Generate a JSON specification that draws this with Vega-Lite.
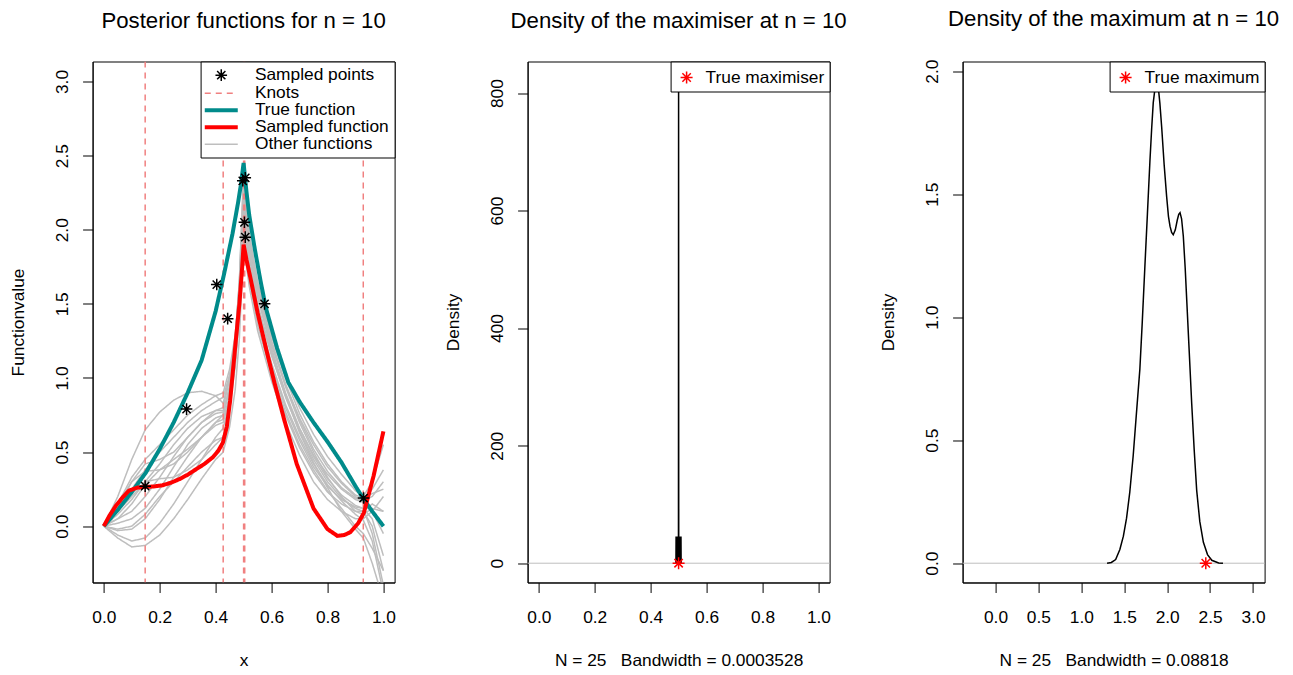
{
"$schema": "https://vega.github.io/schema/vega-lite/v6.json",
"background": "white",
"padding": {"left": 8.6, "top": 7.5, "right": 20, "bottom": 5},
"bounds": "flush",
"spacing": 133,
"config": {
 "font": "Liberation Sans",
 "view": {"stroke": "black", "strokeWidth": 1},
 "title": {"fontSize": 22.2, "fontWeight": "normal", "font": "Liberation Sans", "color": "black", "anchor": "middle", "frame": "group", "baseline": "alphabetic", "offset": 28.5},
 "axis": {"grid": false, "domainColor": "black", "tickColor": "black", "tickSize": 10, "labelFontSize": 17.33, "labelColor": "black", "titleFontSize": 17.33, "titleFontWeight": "normal", "titleColor": "black"},
 "legend": {"labelFont": "Liberation Sans"}
},
"resolve": {"scale": {"color": "independent", "shape": "independent", "strokeDash": "independent", "strokeWidth": "independent"}, "legend": {"color": "independent", "shape": "independent", "strokeDash": "independent", "strokeWidth": "independent"}},
"datasets": {
 "others": [
{"s":"Other functions","id":1,"x":0,"y":0},{"s":"Other functions","id":1,"x":0.05,"y":0.2},{"s":"Other functions","id":1,"x":0.1,"y":0.45},{"s":"Other functions","id":1,"x":0.148,"y":0.65},{"s":"Other functions","id":1,"x":0.2,"y":0.77},{"s":"Other functions","id":1,"x":0.25,"y":0.85},{"s":"Other functions","id":1,"x":0.3,"y":0.9},{"s":"Other functions","id":1,"x":0.35,"y":0.91},{"s":"Other functions","id":1,"x":0.4,"y":0.88},{"s":"Other functions","id":1,"x":0.427,"y":0.83},{"s":"Other functions","id":1,"x":0.45,"y":1.01},{"s":"Other functions","id":1,"x":0.47,"y":1.27},{"s":"Other functions","id":1,"x":0.485,"y":1.64},{"s":"Other functions","id":1,"x":0.5,"y":2.3},{"s":"Other functions","id":1,"x":0.51,"y":2.1},{"s":"Other functions","id":1,"x":0.52,"y":1.95},{"s":"Other functions","id":1,"x":0.55,"y":1.65},{"s":"Other functions","id":1,"x":0.6,"y":1.3},{"s":"Other functions","id":1,"x":0.65,"y":1.02},{"s":"Other functions","id":1,"x":0.7,"y":0.8},{"s":"Other functions","id":1,"x":0.75,"y":0.62},{"s":"Other functions","id":1,"x":0.8,"y":0.47},{"s":"Other functions","id":1,"x":0.85,"y":0.35},{"s":"Other functions","id":1,"x":0.9,"y":0.24},{"s":"Other functions","id":1,"x":0.928,"y":0.2},{"s":"Other functions","id":1,"x":0.96,"y":0.3},{"s":"Other functions","id":1,"x":1,"y":0.55},
{"s":"Other functions","id":2,"x":0,"y":0},{"s":"Other functions","id":2,"x":0.05,"y":0.15},{"s":"Other functions","id":2,"x":0.1,"y":0.33},{"s":"Other functions","id":2,"x":0.148,"y":0.45},{"s":"Other functions","id":2,"x":0.2,"y":0.55},{"s":"Other functions","id":2,"x":0.25,"y":0.65},{"s":"Other functions","id":2,"x":0.3,"y":0.75},{"s":"Other functions","id":2,"x":0.35,"y":0.82},{"s":"Other functions","id":2,"x":0.4,"y":0.88},{"s":"Other functions","id":2,"x":0.427,"y":0.9},{"s":"Other functions","id":2,"x":0.45,"y":1.06},{"s":"Other functions","id":2,"x":0.47,"y":1.29},{"s":"Other functions","id":2,"x":0.485,"y":1.62},{"s":"Other functions","id":2,"x":0.5,"y":2.2},{"s":"Other functions","id":2,"x":0.51,"y":2.0},{"s":"Other functions","id":2,"x":0.52,"y":1.85},{"s":"Other functions","id":2,"x":0.55,"y":1.55},{"s":"Other functions","id":2,"x":0.6,"y":1.22},{"s":"Other functions","id":2,"x":0.65,"y":0.95},{"s":"Other functions","id":2,"x":0.7,"y":0.73},{"s":"Other functions","id":2,"x":0.75,"y":0.55},{"s":"Other functions","id":2,"x":0.8,"y":0.4},{"s":"Other functions","id":2,"x":0.85,"y":0.29},{"s":"Other functions","id":2,"x":0.9,"y":0.2},{"s":"Other functions","id":2,"x":0.928,"y":0.17},{"s":"Other functions","id":2,"x":0.96,"y":0.2},{"s":"Other functions","id":2,"x":1,"y":0.3},
{"s":"Other functions","id":3,"x":0,"y":0},{"s":"Other functions","id":3,"x":0.05,"y":0.1},{"s":"Other functions","id":3,"x":0.1,"y":0.25},{"s":"Other functions","id":3,"x":0.148,"y":0.38},{"s":"Other functions","id":3,"x":0.2,"y":0.5},{"s":"Other functions","id":3,"x":0.25,"y":0.6},{"s":"Other functions","id":3,"x":0.3,"y":0.7},{"s":"Other functions","id":3,"x":0.35,"y":0.78},{"s":"Other functions","id":3,"x":0.4,"y":0.84},{"s":"Other functions","id":3,"x":0.427,"y":0.87},{"s":"Other functions","id":3,"x":0.45,"y":1.02},{"s":"Other functions","id":3,"x":0.47,"y":1.24},{"s":"Other functions","id":3,"x":0.485,"y":1.55},{"s":"Other functions","id":3,"x":0.5,"y":2.1},{"s":"Other functions","id":3,"x":0.51,"y":1.92},{"s":"Other functions","id":3,"x":0.52,"y":1.78},{"s":"Other functions","id":3,"x":0.55,"y":1.48},{"s":"Other functions","id":3,"x":0.6,"y":1.15},{"s":"Other functions","id":3,"x":0.65,"y":0.88},{"s":"Other functions","id":3,"x":0.7,"y":0.66},{"s":"Other functions","id":3,"x":0.75,"y":0.48},{"s":"Other functions","id":3,"x":0.8,"y":0.35},{"s":"Other functions","id":3,"x":0.85,"y":0.25},{"s":"Other functions","id":3,"x":0.9,"y":0.18},{"s":"Other functions","id":3,"x":0.928,"y":0.16},{"s":"Other functions","id":3,"x":0.96,"y":0.1},{"s":"Other functions","id":3,"x":1,"y":-0.05},
{"s":"Other functions","id":4,"x":0,"y":0},{"s":"Other functions","id":4,"x":0.05,"y":0.12},{"s":"Other functions","id":4,"x":0.1,"y":0.3},{"s":"Other functions","id":4,"x":0.148,"y":0.42},{"s":"Other functions","id":4,"x":0.2,"y":0.45},{"s":"Other functions","id":4,"x":0.25,"y":0.5},{"s":"Other functions","id":4,"x":0.3,"y":0.6},{"s":"Other functions","id":4,"x":0.35,"y":0.7},{"s":"Other functions","id":4,"x":0.4,"y":0.78},{"s":"Other functions","id":4,"x":0.427,"y":0.8},{"s":"Other functions","id":4,"x":0.45,"y":0.99},{"s":"Other functions","id":4,"x":0.47,"y":1.27},{"s":"Other functions","id":4,"x":0.485,"y":1.65},{"s":"Other functions","id":4,"x":0.5,"y":2.35},{"s":"Other functions","id":4,"x":0.51,"y":2.12},{"s":"Other functions","id":4,"x":0.52,"y":1.96},{"s":"Other functions","id":4,"x":0.55,"y":1.62},{"s":"Other functions","id":4,"x":0.6,"y":1.25},{"s":"Other functions","id":4,"x":0.65,"y":0.96},{"s":"Other functions","id":4,"x":0.7,"y":0.72},{"s":"Other functions","id":4,"x":0.75,"y":0.52},{"s":"Other functions","id":4,"x":0.8,"y":0.37},{"s":"Other functions","id":4,"x":0.85,"y":0.26},{"s":"Other functions","id":4,"x":0.9,"y":0.19},{"s":"Other functions","id":4,"x":0.928,"y":0.17},{"s":"Other functions","id":4,"x":0.96,"y":0.25},{"s":"Other functions","id":4,"x":1,"y":0.38},
{"s":"Other functions","id":5,"x":0,"y":0},{"s":"Other functions","id":5,"x":0.05,"y":0.08},{"s":"Other functions","id":5,"x":0.1,"y":0.18},{"s":"Other functions","id":5,"x":0.148,"y":0.3},{"s":"Other functions","id":5,"x":0.2,"y":0.42},{"s":"Other functions","id":5,"x":0.25,"y":0.55},{"s":"Other functions","id":5,"x":0.3,"y":0.66},{"s":"Other functions","id":5,"x":0.35,"y":0.74},{"s":"Other functions","id":5,"x":0.4,"y":0.78},{"s":"Other functions","id":5,"x":0.427,"y":0.78},{"s":"Other functions","id":5,"x":0.45,"y":0.93},{"s":"Other functions","id":5,"x":0.47,"y":1.15},{"s":"Other functions","id":5,"x":0.485,"y":1.45},{"s":"Other functions","id":5,"x":0.5,"y":2.0},{"s":"Other functions","id":5,"x":0.51,"y":1.85},{"s":"Other functions","id":5,"x":0.52,"y":1.72},{"s":"Other functions","id":5,"x":0.55,"y":1.42},{"s":"Other functions","id":5,"x":0.6,"y":1.08},{"s":"Other functions","id":5,"x":0.65,"y":0.8},{"s":"Other functions","id":5,"x":0.7,"y":0.58},{"s":"Other functions","id":5,"x":0.75,"y":0.4},{"s":"Other functions","id":5,"x":0.8,"y":0.27},{"s":"Other functions","id":5,"x":0.85,"y":0.18},{"s":"Other functions","id":5,"x":0.9,"y":0.13},{"s":"Other functions","id":5,"x":0.928,"y":0.12},{"s":"Other functions","id":5,"x":0.96,"y":0.05},{"s":"Other functions","id":5,"x":1,"y":-0.2},
{"s":"Other functions","id":6,"x":0,"y":0},{"s":"Other functions","id":6,"x":0.05,"y":0.05},{"s":"Other functions","id":6,"x":0.1,"y":0.1},{"s":"Other functions","id":6,"x":0.148,"y":0.2},{"s":"Other functions","id":6,"x":0.2,"y":0.33},{"s":"Other functions","id":6,"x":0.25,"y":0.47},{"s":"Other functions","id":6,"x":0.3,"y":0.6},{"s":"Other functions","id":6,"x":0.35,"y":0.7},{"s":"Other functions","id":6,"x":0.4,"y":0.76},{"s":"Other functions","id":6,"x":0.427,"y":0.77},{"s":"Other functions","id":6,"x":0.45,"y":0.91},{"s":"Other functions","id":6,"x":0.47,"y":1.12},{"s":"Other functions","id":6,"x":0.485,"y":1.42},{"s":"Other functions","id":6,"x":0.5,"y":1.95},{"s":"Other functions","id":6,"x":0.51,"y":1.8},{"s":"Other functions","id":6,"x":0.52,"y":1.66},{"s":"Other functions","id":6,"x":0.55,"y":1.36},{"s":"Other functions","id":6,"x":0.6,"y":1.02},{"s":"Other functions","id":6,"x":0.65,"y":0.75},{"s":"Other functions","id":6,"x":0.7,"y":0.53},{"s":"Other functions","id":6,"x":0.75,"y":0.36},{"s":"Other functions","id":6,"x":0.8,"y":0.23},{"s":"Other functions","id":6,"x":0.85,"y":0.15},{"s":"Other functions","id":6,"x":0.9,"y":0.1},{"s":"Other functions","id":6,"x":0.928,"y":0.1},{"s":"Other functions","id":6,"x":0.96,"y":0.15},{"s":"Other functions","id":6,"x":1,"y":0.1},
{"s":"Other functions","id":7,"x":0,"y":0},{"s":"Other functions","id":7,"x":0.05,"y":0.02},{"s":"Other functions","id":7,"x":0.1,"y":0.05},{"s":"Other functions","id":7,"x":0.148,"y":0.12},{"s":"Other functions","id":7,"x":0.2,"y":0.25},{"s":"Other functions","id":7,"x":0.25,"y":0.4},{"s":"Other functions","id":7,"x":0.3,"y":0.55},{"s":"Other functions","id":7,"x":0.35,"y":0.66},{"s":"Other functions","id":7,"x":0.4,"y":0.73},{"s":"Other functions","id":7,"x":0.427,"y":0.75},{"s":"Other functions","id":7,"x":0.45,"y":0.93},{"s":"Other functions","id":7,"x":0.47,"y":1.2},{"s":"Other functions","id":7,"x":0.485,"y":1.58},{"s":"Other functions","id":7,"x":0.5,"y":2.25},{"s":"Other functions","id":7,"x":0.51,"y":2.05},{"s":"Other functions","id":7,"x":0.52,"y":1.9},{"s":"Other functions","id":7,"x":0.55,"y":1.58},{"s":"Other functions","id":7,"x":0.6,"y":1.2},{"s":"Other functions","id":7,"x":0.65,"y":0.9},{"s":"Other functions","id":7,"x":0.7,"y":0.66},{"s":"Other functions","id":7,"x":0.75,"y":0.47},{"s":"Other functions","id":7,"x":0.8,"y":0.32},{"s":"Other functions","id":7,"x":0.85,"y":0.21},{"s":"Other functions","id":7,"x":0.9,"y":0.14},{"s":"Other functions","id":7,"x":0.928,"y":0.12},{"s":"Other functions","id":7,"x":0.96,"y":-0.05},{"s":"Other functions","id":7,"x":1,"y":-0.4},
{"s":"Other functions","id":8,"x":0,"y":0},{"s":"Other functions","id":8,"x":0.05,"y":-0.03},{"s":"Other functions","id":8,"x":0.1,"y":-0.02},{"s":"Other functions","id":8,"x":0.148,"y":0.05},{"s":"Other functions","id":8,"x":0.2,"y":0.18},{"s":"Other functions","id":8,"x":0.25,"y":0.33},{"s":"Other functions","id":8,"x":0.3,"y":0.47},{"s":"Other functions","id":8,"x":0.35,"y":0.6},{"s":"Other functions","id":8,"x":0.4,"y":0.7},{"s":"Other functions","id":8,"x":0.427,"y":0.72},{"s":"Other functions","id":8,"x":0.45,"y":0.88},{"s":"Other functions","id":8,"x":0.47,"y":1.12},{"s":"Other functions","id":8,"x":0.485,"y":1.45},{"s":"Other functions","id":8,"x":0.5,"y":2.05},{"s":"Other functions","id":8,"x":0.51,"y":1.88},{"s":"Other functions","id":8,"x":0.52,"y":1.74},{"s":"Other functions","id":8,"x":0.55,"y":1.44},{"s":"Other functions","id":8,"x":0.6,"y":1.1},{"s":"Other functions","id":8,"x":0.65,"y":0.82},{"s":"Other functions","id":8,"x":0.7,"y":0.6},{"s":"Other functions","id":8,"x":0.75,"y":0.42},{"s":"Other functions","id":8,"x":0.8,"y":0.28},{"s":"Other functions","id":8,"x":0.85,"y":0.17},{"s":"Other functions","id":8,"x":0.9,"y":0.08},{"s":"Other functions","id":8,"x":0.928,"y":0.04},{"s":"Other functions","id":8,"x":0.96,"y":-0.1},{"s":"Other functions","id":8,"x":1,"y":-0.45},
{"s":"Other functions","id":9,"x":0,"y":0},{"s":"Other functions","id":9,"x":0.05,"y":-0.06},{"s":"Other functions","id":9,"x":0.1,"y":-0.1},{"s":"Other functions","id":9,"x":0.148,"y":-0.08},{"s":"Other functions","id":9,"x":0.2,"y":0.02},{"s":"Other functions","id":9,"x":0.25,"y":0.15},{"s":"Other functions","id":9,"x":0.3,"y":0.3},{"s":"Other functions","id":9,"x":0.35,"y":0.45},{"s":"Other functions","id":9,"x":0.4,"y":0.6},{"s":"Other functions","id":9,"x":0.427,"y":0.66},{"s":"Other functions","id":9,"x":0.45,"y":0.84},{"s":"Other functions","id":9,"x":0.47,"y":1.11},{"s":"Other functions","id":9,"x":0.485,"y":1.48},{"s":"Other functions","id":9,"x":0.5,"y":2.15},{"s":"Other functions","id":9,"x":0.51,"y":1.97},{"s":"Other functions","id":9,"x":0.52,"y":1.82},{"s":"Other functions","id":9,"x":0.55,"y":1.5},{"s":"Other functions","id":9,"x":0.6,"y":1.16},{"s":"Other functions","id":9,"x":0.65,"y":0.87},{"s":"Other functions","id":9,"x":0.7,"y":0.64},{"s":"Other functions","id":9,"x":0.75,"y":0.45},{"s":"Other functions","id":9,"x":0.8,"y":0.3},{"s":"Other functions","id":9,"x":0.85,"y":0.19},{"s":"Other functions","id":9,"x":0.9,"y":0.12},{"s":"Other functions","id":9,"x":0.928,"y":0.1},{"s":"Other functions","id":9,"x":0.96,"y":0},{"s":"Other functions","id":9,"x":1,"y":-0.3},
{"s":"Other functions","id":10,"x":0,"y":0},{"s":"Other functions","id":10,"x":0.05,"y":-0.08},{"s":"Other functions","id":10,"x":0.1,"y":-0.14},{"s":"Other functions","id":10,"x":0.148,"y":-0.13},{"s":"Other functions","id":10,"x":0.2,"y":-0.06},{"s":"Other functions","id":10,"x":0.25,"y":0.05},{"s":"Other functions","id":10,"x":0.3,"y":0.18},{"s":"Other functions","id":10,"x":0.35,"y":0.32},{"s":"Other functions","id":10,"x":0.4,"y":0.45},{"s":"Other functions","id":10,"x":0.427,"y":0.5},{"s":"Other functions","id":10,"x":0.45,"y":0.67},{"s":"Other functions","id":10,"x":0.47,"y":0.92},{"s":"Other functions","id":10,"x":0.485,"y":1.27},{"s":"Other functions","id":10,"x":0.5,"y":1.9},{"s":"Other functions","id":10,"x":0.51,"y":1.76},{"s":"Other functions","id":10,"x":0.52,"y":1.62},{"s":"Other functions","id":10,"x":0.55,"y":1.32},{"s":"Other functions","id":10,"x":0.6,"y":0.98},{"s":"Other functions","id":10,"x":0.65,"y":0.7},{"s":"Other functions","id":10,"x":0.7,"y":0.48},{"s":"Other functions","id":10,"x":0.75,"y":0.3},{"s":"Other functions","id":10,"x":0.8,"y":0.18},{"s":"Other functions","id":10,"x":0.85,"y":0.1},{"s":"Other functions","id":10,"x":0.9,"y":0.05},{"s":"Other functions","id":10,"x":0.928,"y":0.05},{"s":"Other functions","id":10,"x":0.96,"y":0.1},{"s":"Other functions","id":10,"x":1,"y":0.2},
{"s":"Other functions","id":11,"x":0,"y":0},{"s":"Other functions","id":11,"x":0.05,"y":0.15},{"s":"Other functions","id":11,"x":0.1,"y":0.3},{"s":"Other functions","id":11,"x":0.148,"y":0.37},{"s":"Other functions","id":11,"x":0.2,"y":0.38},{"s":"Other functions","id":11,"x":0.25,"y":0.42},{"s":"Other functions","id":11,"x":0.3,"y":0.5},{"s":"Other functions","id":11,"x":0.35,"y":0.6},{"s":"Other functions","id":11,"x":0.4,"y":0.7},{"s":"Other functions","id":11,"x":0.427,"y":0.75},{"s":"Other functions","id":11,"x":0.45,"y":0.95},{"s":"Other functions","id":11,"x":0.47,"y":1.25},{"s":"Other functions","id":11,"x":0.485,"y":1.66},{"s":"Other functions","id":11,"x":0.5,"y":2.4},{"s":"Other functions","id":11,"x":0.51,"y":2.15},{"s":"Other functions","id":11,"x":0.52,"y":1.98},{"s":"Other functions","id":11,"x":0.55,"y":1.64},{"s":"Other functions","id":11,"x":0.6,"y":1.28},{"s":"Other functions","id":11,"x":0.65,"y":1.0},{"s":"Other functions","id":11,"x":0.7,"y":0.76},{"s":"Other functions","id":11,"x":0.75,"y":0.57},{"s":"Other functions","id":11,"x":0.8,"y":0.42},{"s":"Other functions","id":11,"x":0.85,"y":0.3},{"s":"Other functions","id":11,"x":0.9,"y":0.21},{"s":"Other functions","id":11,"x":0.928,"y":0.19},{"s":"Other functions","id":11,"x":0.96,"y":0.22},{"s":"Other functions","id":11,"x":1,"y":0.25},
{"s":"Other functions","id":12,"x":0,"y":0},{"s":"Other functions","id":12,"x":0.05,"y":0.05},{"s":"Other functions","id":12,"x":0.1,"y":0.15},{"s":"Other functions","id":12,"x":0.148,"y":0.28},{"s":"Other functions","id":12,"x":0.2,"y":0.38},{"s":"Other functions","id":12,"x":0.25,"y":0.45},{"s":"Other functions","id":12,"x":0.3,"y":0.52},{"s":"Other functions","id":12,"x":0.35,"y":0.6},{"s":"Other functions","id":12,"x":0.4,"y":0.68},{"s":"Other functions","id":12,"x":0.427,"y":0.7},{"s":"Other functions","id":12,"x":0.45,"y":0.86},{"s":"Other functions","id":12,"x":0.47,"y":1.09},{"s":"Other functions","id":12,"x":0.485,"y":1.42},{"s":"Other functions","id":12,"x":0.5,"y":2.0},{"s":"Other functions","id":12,"x":0.51,"y":1.84},{"s":"Other functions","id":12,"x":0.52,"y":1.7},{"s":"Other functions","id":12,"x":0.55,"y":1.4},{"s":"Other functions","id":12,"x":0.6,"y":1.05},{"s":"Other functions","id":12,"x":0.65,"y":0.77},{"s":"Other functions","id":12,"x":0.7,"y":0.55},{"s":"Other functions","id":12,"x":0.75,"y":0.38},{"s":"Other functions","id":12,"x":0.8,"y":0.24},{"s":"Other functions","id":12,"x":0.85,"y":0.12},{"s":"Other functions","id":12,"x":0.9,"y":0},{"s":"Other functions","id":12,"x":0.928,"y":-0.05},{"s":"Other functions","id":12,"x":0.96,"y":-0.15},{"s":"Other functions","id":12,"x":1,"y":-0.3},
{"s":"Other functions","id":13,"x":0,"y":0},{"s":"Other functions","id":13,"x":0.05,"y":-0.02},{"s":"Other functions","id":13,"x":0.1,"y":0},{"s":"Other functions","id":13,"x":0.148,"y":0.08},{"s":"Other functions","id":13,"x":0.2,"y":0.2},{"s":"Other functions","id":13,"x":0.25,"y":0.3},{"s":"Other functions","id":13,"x":0.3,"y":0.4},{"s":"Other functions","id":13,"x":0.35,"y":0.5},{"s":"Other functions","id":13,"x":0.4,"y":0.58},{"s":"Other functions","id":13,"x":0.427,"y":0.6},{"s":"Other functions","id":13,"x":0.45,"y":0.8},{"s":"Other functions","id":13,"x":0.47,"y":1.11},{"s":"Other functions","id":13,"x":0.485,"y":1.54},{"s":"Other functions","id":13,"x":0.5,"y":2.3},{"s":"Other functions","id":13,"x":0.51,"y":2.08},{"s":"Other functions","id":13,"x":0.52,"y":1.92},{"s":"Other functions","id":13,"x":0.55,"y":1.6},{"s":"Other functions","id":13,"x":0.6,"y":1.24},{"s":"Other functions","id":13,"x":0.65,"y":0.94},{"s":"Other functions","id":13,"x":0.7,"y":0.7},{"s":"Other functions","id":13,"x":0.75,"y":0.5},{"s":"Other functions","id":13,"x":0.8,"y":0.33},{"s":"Other functions","id":13,"x":0.85,"y":0.2},{"s":"Other functions","id":13,"x":0.9,"y":0.1},{"s":"Other functions","id":13,"x":0.928,"y":0.08},{"s":"Other functions","id":13,"x":0.96,"y":0.12},{"s":"Other functions","id":13,"x":1,"y":0.1},
{"s":"Other functions","id":14,"x":0,"y":0},{"s":"Other functions","id":14,"x":0.05,"y":0.1},{"s":"Other functions","id":14,"x":0.1,"y":0.2},{"s":"Other functions","id":14,"x":0.148,"y":0.3},{"s":"Other functions","id":14,"x":0.2,"y":0.32},{"s":"Other functions","id":14,"x":0.25,"y":0.33},{"s":"Other functions","id":14,"x":0.3,"y":0.38},{"s":"Other functions","id":14,"x":0.35,"y":0.45},{"s":"Other functions","id":14,"x":0.4,"y":0.55},{"s":"Other functions","id":14,"x":0.427,"y":0.6},{"s":"Other functions","id":14,"x":0.45,"y":0.79},{"s":"Other functions","id":14,"x":0.47,"y":1.08},{"s":"Other functions","id":14,"x":0.485,"y":1.48},{"s":"Other functions","id":14,"x":0.5,"y":2.2},{"s":"Other functions","id":14,"x":0.51,"y":2.0},{"s":"Other functions","id":14,"x":0.52,"y":1.86},{"s":"Other functions","id":14,"x":0.55,"y":1.55},{"s":"Other functions","id":14,"x":0.6,"y":1.18},{"s":"Other functions","id":14,"x":0.65,"y":0.88},{"s":"Other functions","id":14,"x":0.7,"y":0.63},{"s":"Other functions","id":14,"x":0.75,"y":0.43},{"s":"Other functions","id":14,"x":0.8,"y":0.26},{"s":"Other functions","id":14,"x":0.85,"y":0.1},{"s":"Other functions","id":14,"x":0.9,"y":-0.02},{"s":"Other functions","id":14,"x":0.928,"y":-0.08},{"s":"Other functions","id":14,"x":0.96,"y":-0.25},{"s":"Other functions","id":14,"x":1,"y":-0.5}
 ],
 "truef": [
{"s":"True function","x":0,"y":0},{"s":"True function","x":0.05,"y":0.11},{"s":"True function","x":0.1,"y":0.23},{"s":"True function","x":0.15,"y":0.36},{"s":"True function","x":0.2,"y":0.52},{"s":"True function","x":0.25,"y":0.7},{"s":"True function","x":0.3,"y":0.9},{"s":"True function","x":0.35,"y":1.12},{"s":"True function","x":0.4,"y":1.45},{"s":"True function","x":0.43,"y":1.7},{"s":"True function","x":0.46,"y":1.97},{"s":"True function","x":0.48,"y":2.18},{"s":"True function","x":0.49,"y":2.3},{"s":"True function","x":0.5,"y":2.45},{"s":"True function","x":0.51,"y":2.26},{"s":"True function","x":0.52,"y":2.1},{"s":"True function","x":0.54,"y":1.87},{"s":"True function","x":0.56,"y":1.66},{"s":"True function","x":0.58,"y":1.47},{"s":"True function","x":0.62,"y":1.2},{"s":"True function","x":0.66,"y":0.97},{"s":"True function","x":0.7,"y":0.84},{"s":"True function","x":0.75,"y":0.7},{"s":"True function","x":0.8,"y":0.57},{"s":"True function","x":0.85,"y":0.43},{"s":"True function","x":0.9,"y":0.27},{"s":"True function","x":0.93,"y":0.18},{"s":"True function","x":0.96,"y":0.1},{"s":"True function","x":1,"y":0}
 ],
 "sampf": [
{"s":"Sampled function","x":0,"y":0},{"s":"Sampled function","x":0.02,"y":0.07},{"s":"Sampled function","x":0.043,"y":0.137},{"s":"Sampled function","x":0.07,"y":0.2},{"s":"Sampled function","x":0.09,"y":0.24},{"s":"Sampled function","x":0.12,"y":0.26},{"s":"Sampled function","x":0.15,"y":0.265},{"s":"Sampled function","x":0.18,"y":0.268},{"s":"Sampled function","x":0.21,"y":0.276},{"s":"Sampled function","x":0.24,"y":0.293},{"s":"Sampled function","x":0.27,"y":0.317},{"s":"Sampled function","x":0.3,"y":0.347},{"s":"Sampled function","x":0.33,"y":0.384},{"s":"Sampled function","x":0.36,"y":0.42},{"s":"Sampled function","x":0.39,"y":0.465},{"s":"Sampled function","x":0.41,"y":0.51},{"s":"Sampled function","x":0.426,"y":0.564},{"s":"Sampled function","x":0.44,"y":0.67},{"s":"Sampled function","x":0.452,"y":0.85},{"s":"Sampled function","x":0.462,"y":1.05},{"s":"Sampled function","x":0.472,"y":1.25},{"s":"Sampled function","x":0.485,"y":1.5},{"s":"Sampled function","x":0.495,"y":1.75},{"s":"Sampled function","x":0.5,"y":1.9},{"s":"Sampled function","x":0.51,"y":1.8},{"s":"Sampled function","x":0.525,"y":1.67},{"s":"Sampled function","x":0.55,"y":1.44},{"s":"Sampled function","x":0.58,"y":1.2},{"s":"Sampled function","x":0.61,"y":0.97},{"s":"Sampled function","x":0.645,"y":0.72},{"s":"Sampled function","x":0.69,"y":0.42},{"s":"Sampled function","x":0.75,"y":0.12},{"s":"Sampled function","x":0.8,"y":-0.02},{"s":"Sampled function","x":0.835,"y":-0.065},{"s":"Sampled function","x":0.86,"y":-0.06},{"s":"Sampled function","x":0.882,"y":-0.04},{"s":"Sampled function","x":0.91,"y":0.02},{"s":"Sampled function","x":0.93,"y":0.09},{"s":"Sampled function","x":0.965,"y":0.34},{"s":"Sampled function","x":1,"y":0.64}
 ],
 "knots": [
{"s":"Knots","x":0.148},{"s":"Knots","x":0.427},{"s":"Knots","x":0.5},{"s":"Knots","x":0.504},{"s":"Knots","x":0.928}
 ],
 "pts": [
{"s":"Sampled points","x":0.148,"y":0.27},{"s":"Sampled points","x":0.296,"y":0.79},{"s":"Sampled points","x":0.404,"y":1.63},{"s":"Sampled points","x":0.443,"y":1.4},{"s":"Sampled points","x":0.504,"y":2.55},{"s":"Sampled points","x":0.497,"y":2.33},{"s":"Sampled points","x":0.506,"y":2.35},{"s":"Sampled points","x":0.503,"y":2.05},{"s":"Sampled points","x":0.506,"y":1.95},{"s":"Sampled points","x":0.575,"y":1.5},{"s":"Sampled points","x":0.929,"y":0.19}
 ],
 "dens2": [
{"x":0.489,"y":0},{"x":0.4905,"y":0},{"x":0.491,"y":45.6},{"x":0.4915,"y":0},{"x":0.4935,"y":0},{"x":0.494,"y":45.6},{"x":0.4945,"y":0},{"x":0.4962,"y":0},{"x":0.4966,"y":45.6},{"x":0.497,"y":0},{"x":0.4995,"y":0},{"x":0.5,"y":821},{"x":0.5005,"y":0},{"x":0.502,"y":0},{"x":0.5025,"y":45.6},{"x":0.503,"y":0},{"x":0.5052,"y":0},{"x":0.5057,"y":45.6},{"x":0.5062,"y":0},{"x":0.508,"y":0},{"x":0.5085,"y":45.6},{"x":0.509,"y":0},{"x":0.511,"y":0}
 ],
 "dens3": [
{"x":1.3,"y":0},{"x":1.35,"y":0.003},{"x":1.4,"y":0.015},{"x":1.449,"y":0.056},{"x":1.49,"y":0.11},{"x":1.527,"y":0.183},{"x":1.565,"y":0.29},{"x":1.604,"y":0.436},{"x":1.64,"y":0.6},{"x":1.682,"y":0.789},{"x":1.71,"y":0.98},{"x":1.741,"y":1.21},{"x":1.77,"y":1.42},{"x":1.799,"y":1.633},{"x":1.82,"y":1.77},{"x":1.838,"y":1.872},{"x":1.86,"y":1.935},{"x":1.877,"y":1.958},{"x":1.895,"y":1.94},{"x":1.915,"y":1.87},{"x":1.936,"y":1.773},{"x":1.965,"y":1.62},{"x":1.994,"y":1.49},{"x":2.015,"y":1.41},{"x":2.033,"y":1.37},{"x":2.052,"y":1.345},{"x":2.071,"y":1.335},{"x":2.095,"y":1.355},{"x":2.118,"y":1.395},{"x":2.135,"y":1.418},{"x":2.15,"y":1.425},{"x":2.168,"y":1.4},{"x":2.188,"y":1.33},{"x":2.21,"y":1.2},{"x":2.228,"y":1.07},{"x":2.257,"y":0.86},{"x":2.286,"y":0.648},{"x":2.315,"y":0.46},{"x":2.344,"y":0.296},{"x":2.38,"y":0.17},{"x":2.422,"y":0.085},{"x":2.47,"y":0.035},{"x":2.52,"y":0.012},{"x":2.6,"y":0.001},{"x":2.65,"y":0}
 ],
 "tmax2": [{"lab":"True maximiser","x":0.5,"y":0}],
 "tmax3": [{"lab":"True maximum","x":2.45,"y":0}]
},
"hconcat": [
{
 "width": 302, "height": 521,
 "title": {"text": "Posterior functions for n = 10"},
 "layer": [
  {"data": {"name": "others"}, "mark": {"type": "line", "clip": true},
   "encoding": {
    "x": {"field": "x", "type": "quantitative", "scale": {"domain": [-0.04, 1.04], "nice": false, "zero": false}, "axis": {"values": [0, 0.2, 0.4, 0.6, 0.8, 1], "format": ".1f", "title": "x", "labelAngle": 0, "labelAlign": "center", "labelBaseline": "alphabetic", "labelPadding": 30, "titleBaseline": "alphabetic", "titleY": 83.4}},
    "y": {"field": "y", "type": "quantitative", "scale": {"domain": [-0.38, 3.135], "nice": false, "zero": false}, "axis": {"values": [0, 0.5, 1, 1.5, 2, 2.5, 3], "format": ".1f", "title": "Functionvalue", "labelAngle": 270, "labelAlign": "center", "labelBaseline": "alphabetic", "labelPadding": 15, "titleAngle": 270, "titleBaseline": "alphabetic", "titleX": -69}},
    "detail": {"field": "id", "type": "nominal"},
    "color": {"field": "s", "type": "nominal", "scale": {"domain": ["Sampled points", "Knots", "True function", "Sampled function", "Other functions"], "range": ["black", "#F08080", "#008B8B", "#FF0000", "#BEBEBE"]}, "legend": {"title": null, "orient": "top-right", "offset": 0, "padding": 5, "strokeColor": "black", "fillColor": "white", "labelFontSize": 17.33, "labelColor": "black", "symbolSize": 100, "symbolOffset": 7, "labelOffset": 25, "rowPadding": -3.3, "cornerRadius": 0}},
    "strokeDash": {"field": "s", "type": "nominal", "scale": {"domain": ["Sampled points", "Knots", "True function", "Sampled function", "Other functions"], "range": [[1, 0], [6, 5], [1, 0], [1, 0], [1, 0]]}, "legend": {"title": null, "orient": "top-right", "offset": 0, "padding": 5, "strokeColor": "black", "fillColor": "white", "labelFontSize": 17.33, "labelColor": "black", "symbolSize": 100, "symbolOffset": 7, "labelOffset": 25, "rowPadding": -3.3, "cornerRadius": 0}},
    "strokeWidth": {"field": "s", "type": "nominal", "scale": {"type": "ordinal", "domain": ["Sampled points", "Knots", "True function", "Sampled function", "Other functions"], "range": [1.5, 1.5, 4, 4, 1.5]}, "legend": {"title": null, "orient": "top-right", "offset": 0, "padding": 5, "strokeColor": "black", "fillColor": "white", "labelFontSize": 17.33, "labelColor": "black", "symbolSize": 100, "symbolOffset": 7, "labelOffset": 25, "rowPadding": -3.3, "cornerRadius": 0}}
   }},
  {"data": {"name": "knots"}, "mark": {"type": "rule", "clip": true},
   "encoding": {
    "x": {"field": "x", "type": "quantitative", "scale": {"domain": [-0.04, 1.04], "nice": false, "zero": false}},
    "color": {"field": "s", "type": "nominal", "scale": {"domain": ["Sampled points", "Knots", "True function", "Sampled function", "Other functions"], "range": ["black", "#F08080", "#008B8B", "#FF0000", "#BEBEBE"]}, "legend": {"title": null, "orient": "top-right", "offset": 0, "padding": 5, "strokeColor": "black", "fillColor": "white", "labelFontSize": 17.33, "labelColor": "black", "symbolSize": 100, "symbolOffset": 7, "labelOffset": 25, "rowPadding": -3.3, "cornerRadius": 0}},
    "strokeDash": {"field": "s", "type": "nominal", "scale": {"domain": ["Sampled points", "Knots", "True function", "Sampled function", "Other functions"], "range": [[1, 0], [6, 5], [1, 0], [1, 0], [1, 0]]}, "legend": {"title": null, "orient": "top-right", "offset": 0, "padding": 5, "strokeColor": "black", "fillColor": "white", "labelFontSize": 17.33, "labelColor": "black", "symbolSize": 100, "symbolOffset": 7, "labelOffset": 25, "rowPadding": -3.3, "cornerRadius": 0}},
    "strokeWidth": {"field": "s", "type": "nominal", "scale": {"type": "ordinal", "domain": ["Sampled points", "Knots", "True function", "Sampled function", "Other functions"], "range": [1.5, 1.5, 4, 4, 1.5]}, "legend": {"title": null, "orient": "top-right", "offset": 0, "padding": 5, "strokeColor": "black", "fillColor": "white", "labelFontSize": 17.33, "labelColor": "black", "symbolSize": 100, "symbolOffset": 7, "labelOffset": 25, "rowPadding": -3.3, "cornerRadius": 0}}
   }},
  {"data": {"name": "truef"}, "mark": {"type": "line", "clip": true},
   "encoding": {
    "x": {"field": "x", "type": "quantitative", "scale": {"domain": [-0.04, 1.04], "nice": false, "zero": false}},
    "y": {"field": "y", "type": "quantitative", "scale": {"domain": [-0.38, 3.135], "nice": false, "zero": false}},
    "color": {"field": "s", "type": "nominal", "scale": {"domain": ["Sampled points", "Knots", "True function", "Sampled function", "Other functions"], "range": ["black", "#F08080", "#008B8B", "#FF0000", "#BEBEBE"]}, "legend": {"title": null, "orient": "top-right", "offset": 0, "padding": 5, "strokeColor": "black", "fillColor": "white", "labelFontSize": 17.33, "labelColor": "black", "symbolSize": 100, "symbolOffset": 7, "labelOffset": 25, "rowPadding": -3.3, "cornerRadius": 0}},
    "strokeDash": {"field": "s", "type": "nominal", "scale": {"domain": ["Sampled points", "Knots", "True function", "Sampled function", "Other functions"], "range": [[1, 0], [6, 5], [1, 0], [1, 0], [1, 0]]}, "legend": {"title": null, "orient": "top-right", "offset": 0, "padding": 5, "strokeColor": "black", "fillColor": "white", "labelFontSize": 17.33, "labelColor": "black", "symbolSize": 100, "symbolOffset": 7, "labelOffset": 25, "rowPadding": -3.3, "cornerRadius": 0}},
    "strokeWidth": {"field": "s", "type": "nominal", "scale": {"type": "ordinal", "domain": ["Sampled points", "Knots", "True function", "Sampled function", "Other functions"], "range": [1.5, 1.5, 4, 4, 1.5]}, "legend": {"title": null, "orient": "top-right", "offset": 0, "padding": 5, "strokeColor": "black", "fillColor": "white", "labelFontSize": 17.33, "labelColor": "black", "symbolSize": 100, "symbolOffset": 7, "labelOffset": 25, "rowPadding": -3.3, "cornerRadius": 0}}
   }},
  {"data": {"name": "sampf"}, "mark": {"type": "line", "clip": true},
   "encoding": {
    "x": {"field": "x", "type": "quantitative", "scale": {"domain": [-0.04, 1.04], "nice": false, "zero": false}},
    "y": {"field": "y", "type": "quantitative", "scale": {"domain": [-0.38, 3.135], "nice": false, "zero": false}},
    "color": {"field": "s", "type": "nominal", "scale": {"domain": ["Sampled points", "Knots", "True function", "Sampled function", "Other functions"], "range": ["black", "#F08080", "#008B8B", "#FF0000", "#BEBEBE"]}, "legend": {"title": null, "orient": "top-right", "offset": 0, "padding": 5, "strokeColor": "black", "fillColor": "white", "labelFontSize": 17.33, "labelColor": "black", "symbolSize": 100, "symbolOffset": 7, "labelOffset": 25, "rowPadding": -3.3, "cornerRadius": 0}},
    "strokeDash": {"field": "s", "type": "nominal", "scale": {"domain": ["Sampled points", "Knots", "True function", "Sampled function", "Other functions"], "range": [[1, 0], [6, 5], [1, 0], [1, 0], [1, 0]]}, "legend": {"title": null, "orient": "top-right", "offset": 0, "padding": 5, "strokeColor": "black", "fillColor": "white", "labelFontSize": 17.33, "labelColor": "black", "symbolSize": 100, "symbolOffset": 7, "labelOffset": 25, "rowPadding": -3.3, "cornerRadius": 0}},
    "strokeWidth": {"field": "s", "type": "nominal", "scale": {"type": "ordinal", "domain": ["Sampled points", "Knots", "True function", "Sampled function", "Other functions"], "range": [1.5, 1.5, 4, 4, 1.5]}, "legend": {"title": null, "orient": "top-right", "offset": 0, "padding": 5, "strokeColor": "black", "fillColor": "white", "labelFontSize": 17.33, "labelColor": "black", "symbolSize": 100, "symbolOffset": 7, "labelOffset": 25, "rowPadding": -3.3, "cornerRadius": 0}}
   }},
  {"data": {"name": "pts"}, "mark": {"type": "point", "filled": false, "size": 100, "strokeWidth": 1.5, "opacity": 1, "clip": true},
   "encoding": {
    "x": {"field": "x", "type": "quantitative", "scale": {"domain": [-0.04, 1.04], "nice": false, "zero": false}},
    "y": {"field": "y", "type": "quantitative", "scale": {"domain": [-0.38, 3.135], "nice": false, "zero": false}},
    "color": {"field": "s", "type": "nominal", "scale": {"domain": ["Sampled points", "Knots", "True function", "Sampled function", "Other functions"], "range": ["black", "#F08080", "#008B8B", "#FF0000", "#BEBEBE"]}, "legend": {"title": null, "orient": "top-right", "offset": 0, "padding": 5, "strokeColor": "black", "fillColor": "white", "labelFontSize": 17.33, "labelColor": "black", "symbolSize": 100, "symbolOffset": 7, "labelOffset": 25, "rowPadding": -3.3, "cornerRadius": 0}},
    "shape": {"field": "s", "type": "nominal", "scale": {"domain": ["Sampled points", "Knots", "True function", "Sampled function", "Other functions"], "range": ["M-1.16,0L1.16,0M0,-1.16L0,1.16M-0.82,-0.82L0.82,0.82M-0.82,0.82L0.82,-0.82", "M-3.3,0L3.3,0", "M-3.3,0L3.3,0", "M-3.3,0L3.3,0", "M-3.3,0L3.3,0"]}, "legend": {"title": null, "orient": "top-right", "offset": 0, "padding": 5, "strokeColor": "black", "fillColor": "white", "labelFontSize": 17.33, "labelColor": "black", "symbolSize": 100, "symbolOffset": 7, "labelOffset": 25, "rowPadding": -3.3, "cornerRadius": 0}}
   }}
 ]
},
{
 "width": 302, "height": 521,
 "title": {"text": "Density of the maximiser at n = 10"},
 "layer": [
  {"data": {"values": [{}]}, "mark": {"type": "rule", "color": "#BEBEBE", "strokeWidth": 1},
   "encoding": {"y": {"datum": 0, "type": "quantitative", "scale": {"domain": [-32.84, 853.9], "nice": false, "zero": false}, "axis": {"values": [0, 200, 400, 600, 800], "format": "d", "title": "Density", "labelAngle": 270, "labelAlign": "center", "labelBaseline": "alphabetic", "labelPadding": 15, "titleAngle": 270, "titleBaseline": "alphabetic", "titleX": -69}}}},
  {"data": {"name": "dens2"}, "mark": {"type": "line", "color": "black", "strokeWidth": 1.5, "clip": true},
   "encoding": {
    "x": {"field": "x", "type": "quantitative", "scale": {"domain": [-0.04, 1.04], "nice": false, "zero": false}, "axis": {"values": [0, 0.2, 0.4, 0.6, 0.8, 1], "format": ".1f", "title": "N = 25\u00a0\u00a0\u00a0Bandwidth = 0.0003528", "labelAngle": 0, "labelAlign": "center", "labelBaseline": "alphabetic", "labelPadding": 30, "titleBaseline": "alphabetic", "titleY": 83.4}},
    "y": {"field": "y", "type": "quantitative", "scale": {"domain": [-32.84, 853.9], "nice": false, "zero": false}, "axis": {"values": [0, 200, 400, 600, 800], "format": "d", "title": "Density", "labelAngle": 270, "labelAlign": "center", "labelBaseline": "alphabetic", "labelPadding": 15, "titleAngle": 270, "titleBaseline": "alphabetic", "titleX": -69}}
   }},
  {"data": {"name": "tmax2"}, "mark": {"type": "point", "shape": "M-0.6,0L0.6,0M0,-0.6L0,0.6M-0.42,-0.42L0.42,0.42M-0.42,0.42L0.42,-0.42", "filled": false, "size": 400, "strokeWidth": 1.5, "opacity": 1},
   "encoding": {
    "x": {"field": "x", "type": "quantitative", "scale": {"domain": [-0.04, 1.04], "nice": false, "zero": false}, "axis": {"values": [0, 0.2, 0.4, 0.6, 0.8, 1], "format": ".1f", "title": "N = 25\u00a0\u00a0\u00a0Bandwidth = 0.0003528", "labelAngle": 0, "labelAlign": "center", "labelBaseline": "alphabetic", "labelPadding": 30, "titleBaseline": "alphabetic", "titleY": 83.4}},
    "y": {"field": "y", "type": "quantitative", "scale": {"domain": [-32.84, 853.9], "nice": false, "zero": false}, "axis": {"values": [0, 200, 400, 600, 800], "format": "d", "title": "Density", "labelAngle": 270, "labelAlign": "center", "labelBaseline": "alphabetic", "labelPadding": 15, "titleAngle": 270, "titleBaseline": "alphabetic", "titleX": -69}},
    "color": {"field": "lab", "type": "nominal", "scale": {"domain": ["True maximiser"], "range": ["#FF0000"]}, "legend": {"title": null, "orient": "top-right", "offset": 0, "padding": 5, "strokeColor": "black", "fillColor": "white", "labelFontSize": 17.33, "labelColor": "black", "symbolSize": 400, "labelOffset": 8, "symbolType": "M-0.6,0L0.6,0M0,-0.6L0,0.6M-0.42,-0.42L0.42,0.42M-0.42,0.42L0.42,-0.42", "symbolStrokeWidth": 1.5, "cornerRadius": 0}}
   }}
 ]
},
{
 "width": 302, "height": 521,
 "title": {"text": "Density of the maximum at n = 10"},
 "layer": [
  {"data": {"values": [{}]}, "mark": {"type": "rule", "color": "#BEBEBE", "strokeWidth": 1},
   "encoding": {"y": {"datum": 0, "type": "quantitative", "scale": {"domain": [-0.0784, 2.0394], "nice": false, "zero": false}, "axis": {"values": [0, 0.5, 1, 1.5, 2], "format": ".1f", "title": "Density", "labelAngle": 270, "labelAlign": "center", "labelBaseline": "alphabetic", "labelPadding": 15, "titleAngle": 270, "titleBaseline": "alphabetic", "titleX": -69}}}},
  {"data": {"name": "dens3"}, "mark": {"type": "line", "color": "black", "strokeWidth": 1.5, "clip": true},
   "encoding": {
    "x": {"field": "x", "type": "quantitative", "scale": {"domain": [-0.383, 3.135], "nice": false, "zero": false}, "axis": {"values": [0, 0.5, 1, 1.5, 2, 2.5, 3], "format": ".1f", "title": "N = 25\u00a0\u00a0\u00a0Bandwidth = 0.08818", "labelAngle": 0, "labelAlign": "center", "labelBaseline": "alphabetic", "labelPadding": 30, "titleBaseline": "alphabetic", "titleY": 83.4}},
    "y": {"field": "y", "type": "quantitative", "scale": {"domain": [-0.0784, 2.0394], "nice": false, "zero": false}, "axis": {"values": [0, 0.5, 1, 1.5, 2], "format": ".1f", "title": "Density", "labelAngle": 270, "labelAlign": "center", "labelBaseline": "alphabetic", "labelPadding": 15, "titleAngle": 270, "titleBaseline": "alphabetic", "titleX": -69}}
   }},
  {"data": {"name": "tmax3"}, "mark": {"type": "point", "shape": "M-0.6,0L0.6,0M0,-0.6L0,0.6M-0.42,-0.42L0.42,0.42M-0.42,0.42L0.42,-0.42", "filled": false, "size": 400, "strokeWidth": 1.5, "opacity": 1},
   "encoding": {
    "x": {"field": "x", "type": "quantitative", "scale": {"domain": [-0.383, 3.135], "nice": false, "zero": false}, "axis": {"values": [0, 0.5, 1, 1.5, 2, 2.5, 3], "format": ".1f", "title": "N = 25\u00a0\u00a0\u00a0Bandwidth = 0.08818", "labelAngle": 0, "labelAlign": "center", "labelBaseline": "alphabetic", "labelPadding": 30, "titleBaseline": "alphabetic", "titleY": 83.4}},
    "y": {"field": "y", "type": "quantitative", "scale": {"domain": [-0.0784, 2.0394], "nice": false, "zero": false}, "axis": {"values": [0, 0.5, 1, 1.5, 2], "format": ".1f", "title": "Density", "labelAngle": 270, "labelAlign": "center", "labelBaseline": "alphabetic", "labelPadding": 15, "titleAngle": 270, "titleBaseline": "alphabetic", "titleX": -69}},
    "color": {"field": "lab", "type": "nominal", "scale": {"domain": ["True maximum"], "range": ["#FF0000"]}, "legend": {"title": null, "orient": "top-right", "offset": 0, "padding": 5, "strokeColor": "black", "fillColor": "white", "labelFontSize": 17.33, "labelColor": "black", "symbolSize": 400, "labelOffset": 8, "symbolType": "M-0.6,0L0.6,0M0,-0.6L0,0.6M-0.42,-0.42L0.42,0.42M-0.42,0.42L0.42,-0.42", "symbolStrokeWidth": 1.5, "cornerRadius": 0}}
   }}
 ]
}
]
}
